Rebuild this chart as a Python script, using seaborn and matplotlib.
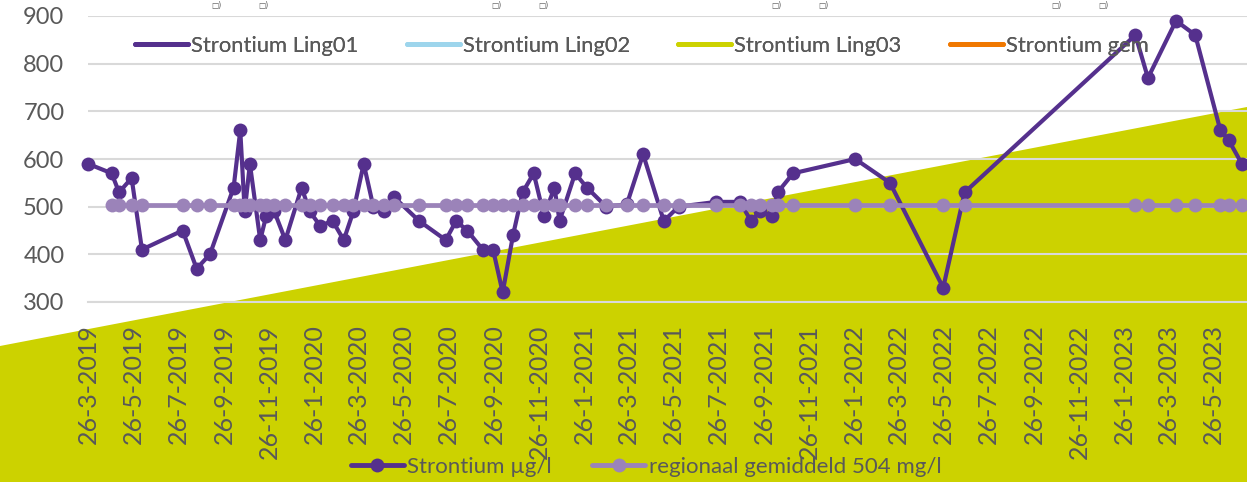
import numpy as np
import pandas as pd
import matplotlib
matplotlib.use("Agg")
import matplotlib.pyplot as plt
from matplotlib.lines import Line2D
from matplotlib.patches import Polygon
import seaborn as sns

# ---------------- data ----------------
dates = [
    "2019-03-26", "2019-04-27", "2019-05-07", "2019-05-24", "2019-06-07",
    "2019-08-01", "2019-08-20", "2019-09-07", "2019-10-09", "2019-10-18",
    "2019-10-24", "2019-10-31", "2019-11-14", "2019-11-22", "2019-12-03",
    "2019-12-18", "2020-01-09", "2020-01-20", "2020-02-03", "2020-02-20",
    "2020-03-06", "2020-03-19", "2020-04-02", "2020-04-15", "2020-04-29",
    "2020-05-13", "2020-06-16", "2020-07-22", "2020-08-05", "2020-08-20",
    "2020-09-10", "2020-09-24", "2020-10-07", "2020-10-21", "2020-11-03",
    "2020-11-18", "2020-12-02", "2020-12-16", "2020-12-23", "2021-01-13",
    "2021-01-29", "2021-02-24", "2021-03-24", "2021-04-15", "2021-05-13",
    "2021-06-02", "2021-07-23", "2021-08-24", "2021-09-08", "2021-09-20",
    "2021-10-06", "2021-10-14", "2021-11-04", "2022-01-27", "2022-03-15",
    "2022-05-26", "2022-06-24", "2023-02-10", "2023-02-27", "2023-04-06",
    "2023-05-02", "2023-06-05", "2023-06-16", "2023-07-04",
]
strontium = [
    590, 570, 530, 560, 410,
    450, 370, 400, 540, 660,
    490, 590, 430, 480, 490,
    430, 540, 490, 460, 470,
    430, 490, 590, 500, 490,
    520, 470, 430, 470, 450,
    410, 410, 320, 440, 530,
    570, 480, 540, 470, 570,
    540, 500, 505, 610, 470,
    500, 510, 510, 470, 490,
    480, 530, 570, 600, 550,
    330, 530, 860, 770, 890,
    860, 660, 640, 590,
]
regional = [np.nan] + [504] * (len(dates) - 1)

top_labels = ["Strontium Ling01", "Strontium Ling02", "Strontium Ling03", "Strontium gem"]
top_colors = ["#55308D", "#9DD5EC", "#CCD200", "#F07800"]
bottom_labels = ["Strontium µg/l", "regionaal gemiddeld 504 mg/l"]
fragment_labels = ["□)", "□)", "□)", "□)", "□)", "□)", "□)", "□)"]
y_ticks = [300, 400, 500, 600, 700, 800, 900]
x_start, x_end = "2019-03-26", "2023-07-11"
n_xticks = 26

# ---------------- style ----------------
sns.set_style("white")
plt.rcParams["font.family"] = ["Lato", "DejaVu Sans"]
TXT = "#595959"
GRID = "#D9D9D9"
DARK = "#55308D"
LIGHT = "#9B83B9"
GREEN = "#CCD200"

W, H = 1247, 482
fig = plt.figure(figsize=(W / 100, H / 100), dpi=100)
fig.patch.set_facecolor("white")

# background wedge
fig.add_artist(Polygon([[0, 1 - 346 / H], [1, 1 - 107 / H], [1, 0], [0, 0]],
                       closed=True, transform=fig.transFigure,
                       facecolor=GREEN, edgecolor="none", zorder=-5))

ax = fig.add_axes([88 / W, (H - 302) / H, (W - 88) / W, (302 - 16) / H])
ax.patch.set_alpha(0)

df = pd.DataFrame({"date": pd.to_datetime(dates), "Strontium": strontium, "Regional": regional})

sns.lineplot(data=df, x="date", y="Strontium", ax=ax, color=DARK, marker="o",
             markersize=10, markeredgewidth=0, linewidth=3.0, legend=False,
             clip_on=False, zorder=3)
sns.lineplot(data=df.dropna(), x="date", y="Regional", ax=ax, color=LIGHT, marker="o",
             markersize=10, markeredgewidth=0, linewidth=3.4, legend=False,
             clip_on=False, zorder=4)

ax.set_xlim(pd.Timestamp(x_start), pd.Timestamp(x_end))
ax.set_ylim(y_ticks[0], y_ticks[-1])
ax.set_yticks(y_ticks)
tick_dates = [pd.Timestamp(x_start) + pd.DateOffset(months=2 * i) for i in range(n_xticks)]
ax.set_xticks(tick_dates)
ax.set_xticklabels([f"{d.day}-{d.month}-{d.year}" for d in tick_dates], rotation=90)
ax.set_xlabel("")
ax.set_ylabel("")

ax.yaxis.grid(True, color=GRID, linewidth=1.5, zorder=0)
ax.xaxis.grid(False)
ax.set_axisbelow(True)
for s in ["top", "right", "left"]:
    ax.spines[s].set_visible(False)
ax.spines["bottom"].set_color(GRID)
ax.spines["bottom"].set_linewidth(1.5)
ax.tick_params(axis="y", length=0, labelsize=17, labelcolor=TXT, pad=17)
ax.tick_params(axis="x", length=6, width=1.5, color=GRID, direction="out",
               labelsize=18, labelcolor=TXT, pad=10)

# top legend (series without visible data)
top_handles = [Line2D([], [], color=c, linewidth=3.5, solid_capstyle="round") for c in top_colors]
leg1 = ax.legend(top_handles, top_labels, loc="center", ncol=4, frameon=False,
                 bbox_to_anchor=(642 / W, 1 - 46 / H), bbox_transform=fig.transFigure,
                 fontsize=15.8, handlelength=2.4, handletextpad=0.15, columnspacing=2.2,
                 labelcolor=TXT)
ax.add_artist(leg1)

bottom_handles = [
    Line2D([], [], color=DARK, linewidth=3.5, marker="o", markersize=10, markeredgewidth=0),
    Line2D([], [], color=LIGHT, linewidth=3.5, marker="o", markersize=10, markeredgewidth=0),
]
fig.legend(bottom_handles, bottom_labels, loc="center", ncol=2, frameon=False,
           bbox_to_anchor=(646 / W, 1 - 467 / H), bbox_transform=fig.transFigure,
           fontsize=16, handlelength=2.4, handletextpad=0.15, columnspacing=1.8,
           labelcolor=TXT)

# small box-glyph fragments along the top edge
for i, lab in enumerate(fragment_labels):
    xpx = 211 + 280 * (i // 2) + 47 * (i % 2)
    fig.text(xpx / W, 1 - 1 / H, lab, ha="left", va="top", fontsize=5.5,
             color=TXT, family=["DejaVu Sans"])

fig.savefig("out.png", dpi=100)
